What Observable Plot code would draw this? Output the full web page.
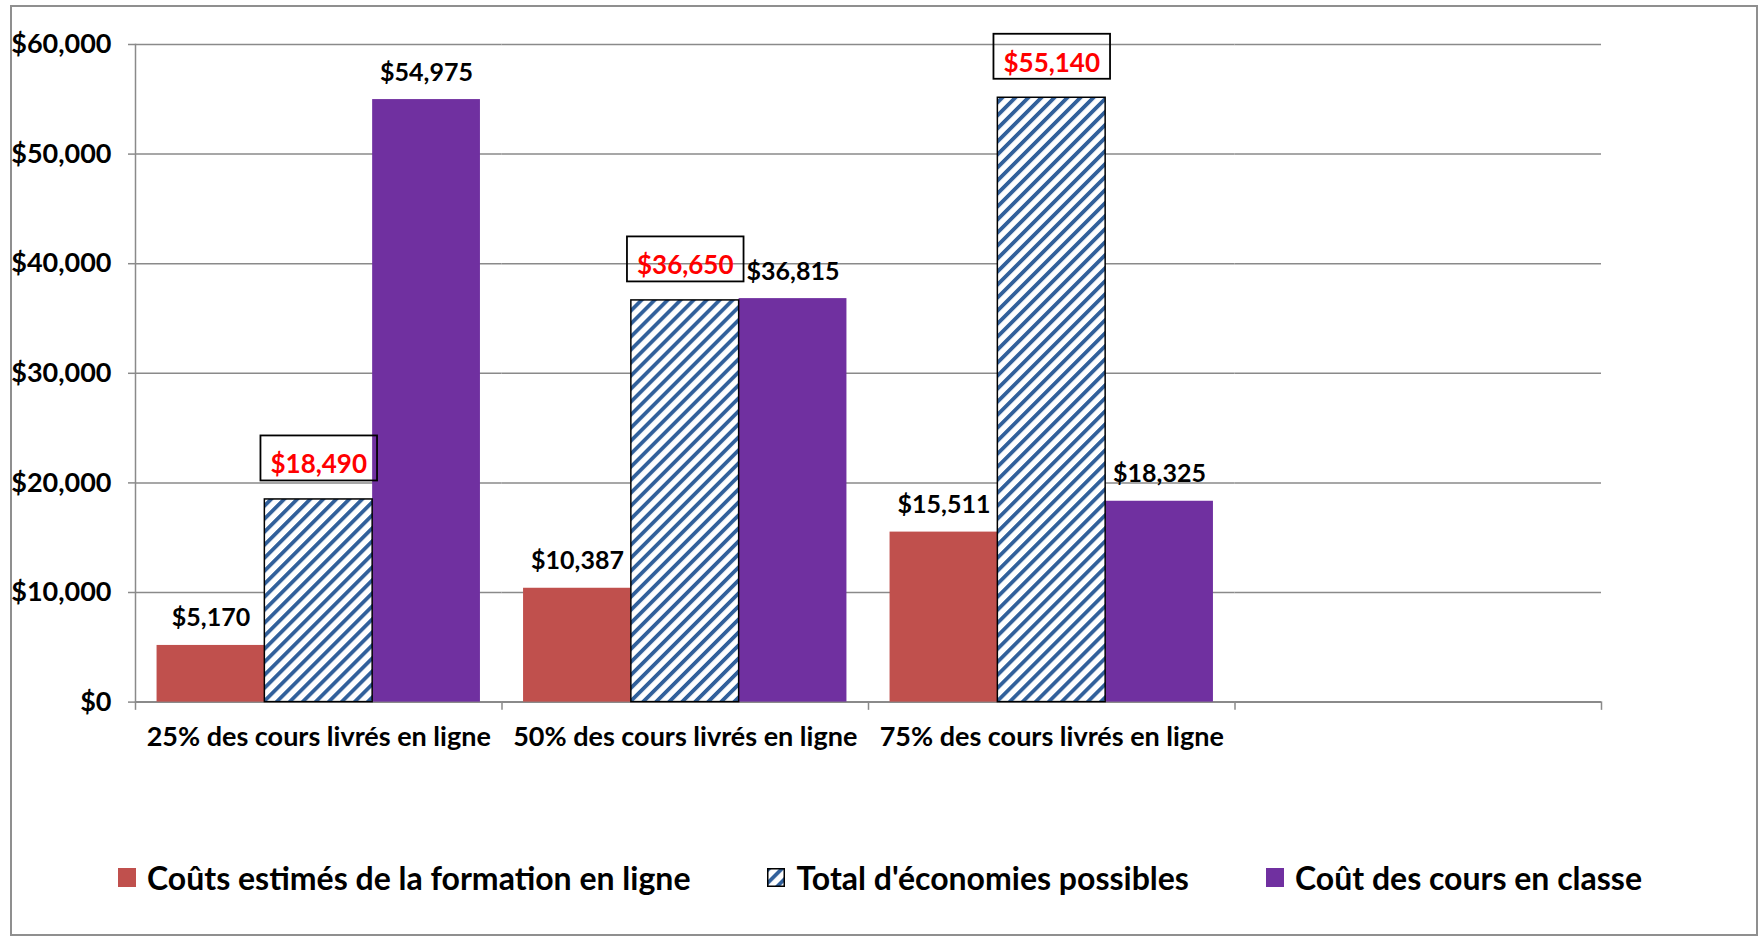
<!DOCTYPE html>
<html><head><meta charset="utf-8">
<script src="https://cdn.jsdelivr.net/npm/d3@7"></script>
<script src="https://cdn.jsdelivr.net/npm/@observablehq/plot@0.6"></script>
<style>
html,body{margin:0;padding:0;background:#fff;}
body{width:1760px;height:937px;position:relative;overflow:hidden;font-family:Lato,sans-serif;}
#frame{position:absolute;left:10px;top:5px;width:1748px;height:931px;border:2px solid #8f8f8f;box-sizing:border-box;}
#chart{position:absolute;left:0;top:0;}
#legend{position:absolute;left:118px;top:858px;display:flex;align-items:center;gap:77px;font-weight:700;font-size:32px;color:#000;white-space:nowrap;}
.item{display:flex;align-items:center;gap:11px;}
.key{width:18px;height:19px;display:block;}
</style></head><body>
<div id="frame"></div><div id="chart"></div><div id="legend"></div>
<script>
const categories = ["25% des cours livrés en ligne", "50% des cours livrés en ligne", "75% des cours livrés en ligne", ""];
const seriesNames = ["Coûts estimés de la formation en ligne", "Total d'économies possibles", "Coût des cours en classe"];
const onlineCosts = [5170, 10387, 15511];
const totalSavings = [18490, 36650, 55140];
const classroomCosts = [54975, 36815, 18325];
const yTicks = [0, 10000, 20000, 30000, 40000, 50000, 60000];

const seriesValues = [onlineCosts, totalSavings, classroomCosts];
const rows = [];
seriesValues.forEach((vals, s) => vals.forEach((v, i) => rows.push({category: categories[i], series: seriesNames[s], value: v})));

const RED = "#C0504D", PURPLE = "#7030A0", HATCH = "#31609B", GRID = "#8a8a8a", LABELRED = "#FF0000";
const fmt = d3.format("$,");
const W = 1760, H = 770, MT = 44, MB = 68.4, ML = 135, MR = 159;
const plotH = H - MT - MB;

const solid = rows.filter(d => d.series !== seriesNames[1]);
const hatched = rows.filter(d => d.series === seriesNames[1]);

const svg = Plot.plot({
  width: W, height: H,
  marginTop: MT, marginBottom: MB, marginLeft: ML, marginRight: MR,
  style: {fontFamily: "Lato, sans-serif", background: "transparent", overflow: "visible"},
  fx: {domain: categories, padding: 0, round: false, label: null},
  x: {domain: seriesNames, paddingInner: 0, paddingOuter: 0.2, round: false, axis: null},
  y: {domain: [0, 60000], axis: null, label: null},
  marks: [
    Plot.gridY(yTicks, {stroke: GRID, strokeOpacity: 1, strokeWidth: 1.5}),
    Plot.frame({anchor: "left", facetAnchor: "left", stroke: GRID, strokeWidth: 1.5}),
    Plot.ruleY(categories, {fx: d => d, y: () => 0, stroke: GRID, strokeWidth: 2}),
    Plot.frame({anchor: "left", insetTop: plotH, insetBottom: -7, stroke: GRID, strokeWidth: 1.5}),
    Plot.frame({anchor: "right", facetAnchor: "right", insetTop: plotH, insetBottom: -7, stroke: GRID, strokeWidth: 1.5}),
    Plot.axisY(yTicks, {label: null, tickSize: 7, tickPadding: 17, tickFormat: fmt, stroke: GRID, fill: "black", fontSize: 27, fontWeight: 700, strokeWidth: 1.5}),
    Plot.axisFx({anchor: "bottom", tickSize: 0, tickPadding: 25, label: null, fontSize: 27, fontWeight: 700, fill: "black"}),
    Plot.barY(solid, {fx: "category", x: "series", y: "value", fill: d => d.series === seriesNames[0] ? RED : PURPLE}),
    Plot.barY(hatched, {fx: "category", x: "series", y: "value", fill: "url(#hatch)", stroke: "black", strokeWidth: 1.5}),
    Plot.text(solid, {fx: "category", x: "series", y: "value", text: d => fmt(d.value), dy: -19, lineAnchor: "bottom", fontSize: 25, fontWeight: 700, fill: "black"}),
    Plot.text(hatched, {fx: "category", x: "series", y: "value", text: d => fmt(d.value), dy: -26, lineAnchor: "bottom", fontSize: 26, fontWeight: 700, fill: LABELRED})
  ]
});

// hatch pattern
const defs = d3.select(svg).insert("defs", ":first-child");
const pat = defs.append("pattern").attr("id", "hatch").attr("patternUnits", "userSpaceOnUse")
  .attr("width", 9.2).attr("height", 9.2).attr("patternTransform", "rotate(45)");
pat.append("rect").attr("width", 9.2).attr("height", 9.2).attr("fill", "white");
pat.append("rect").attr("width", 3.8).attr("height", 9.2).attr("fill", HATCH);

document.getElementById("chart").appendChild(svg);

// boxes around savings labels
const savingTexts = new Set(totalSavings.map(fmt));
svg.querySelectorAll("text").forEach(t => {
  const g = t.closest("g[fill]");
  if (!savingTexts.has(t.textContent) || !g || g.getAttribute("fill").toLowerCase() !== LABELRED.toLowerCase()) return;
  const b = t.getBBox();
  const r = document.createElementNS("http://www.w3.org/2000/svg", "rect");
  if (t.getAttribute("transform")) r.setAttribute("transform", t.getAttribute("transform"));
  r.setAttribute("x", b.x - 10);
  r.setAttribute("y", b.y - 12);
  r.setAttribute("width", b.width + 20);
  r.setAttribute("height", b.height + 13);
  r.setAttribute("fill", "none");
  r.setAttribute("stroke", "black");
  r.setAttribute("stroke-width", 1.8);
  t.parentNode.insertBefore(r, t);
});

// legend
const legend = d3.select("#legend");
const keyFills = [RED, "url(#hatch)", PURPLE];
seriesNames.forEach((name, i) => {
  const item = legend.append("div").attr("class", "item");
  const k = item.append("svg").attr("class", "key").attr("width", 18).attr("height", 19);
  k.append("rect").attr("x", i === 1 ? 0.75 : 0).attr("y", i === 1 ? 0.75 : 0)
    .attr("width", i === 1 ? 16.5 : 18).attr("height", i === 1 ? 17.5 : 19)
    .attr("fill", keyFills[i]).attr("stroke", i === 1 ? "black" : "none").attr("stroke-width", 1.5);
  item.append("span").text(name);
});
</script></body></html>
